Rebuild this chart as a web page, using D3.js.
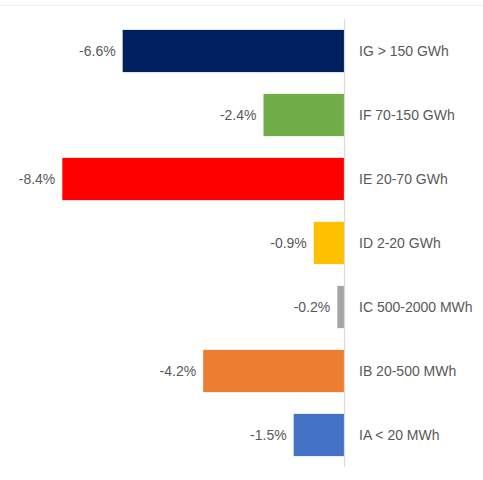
<!DOCTYPE html>
<html>
<head>
<meta charset="utf-8">
<script src="https://cdn.jsdelivr.net/npm/d3@7"></script>
<style>
  body { margin: 0; background: #fff; }
  text { font-family: "Liberation Sans", Arial, sans-serif; font-size: 14px; fill: #595959; }
</style>
</head>
<body>
<svg id="chart"></svg>
<script>
var width = 483, height = 480;

// data, top to bottom
var categories = ["IG > 150 GWh", "IF 70-150 GWh", "IE 20-70 GWh", "ID 2-20 GWh", "IC 500-2000 MWh", "IB 20-500 MWh", "IA < 20 MWh"];
var values = [-6.6, -2.4, -8.4, -0.9, -0.2, -4.2, -1.5];
var colors = ["#002060", "#70AD47", "#FF0000", "#FFC000", "#A5A5A5", "#ED7D31", "#4472C4"];

var svg = d3.select("#chart")
  .attr("width", width)
  .attr("height", height);

// faint chart border at top
svg.append("line")
  .attr("x1", 0).attr("x2", width)
  .attr("y1", 5.5).attr("y2", 5.5)
  .attr("stroke", "#eeeeee")
  .attr("stroke-width", 1);

var x = d3.scaleLinear()
  .domain([-8.4, 0])
  .range([62.3, 344]);

var y = d3.scaleBand()
  .domain(categories)
  .range([19, 467])
  .paddingInner(0.34)
  .paddingOuter(0.17);

var rows = categories.map(function (c, i) {
  return { cat: c, val: values[i], color: colors[i] };
});

svg.selectAll("rect.bar")
  .data(rows)
  .enter().append("rect")
  .attr("class", "bar")
  .attr("x", function (d) { return x(d.val); })
  .attr("y", function (d) { return y(d.cat); })
  .attr("width", function (d) { return x(0) - x(d.val); })
  .attr("height", y.bandwidth())
  .attr("fill", function (d) { return d.color; });

// vertical zero axis
svg.append("line")
  .attr("x1", x(0) + 0.5).attr("x2", x(0) + 0.5)
  .attr("y1", 19).attr("y2", 467)
  .attr("stroke", "#d9d9d9")
  .attr("stroke-width", 1.2);

// value labels
svg.selectAll("text.val")
  .data(rows)
  .enter().append("text")
  .attr("class", "val")
  .attr("x", function (d) { return x(d.val) - 7; })
  .attr("y", function (d) { return y(d.cat) + y.bandwidth() / 2; })
  .attr("dy", "0.35em")
  .attr("text-anchor", "end")
  .text(function (d) { return d.val.toFixed(1) + "%"; });

// category labels
svg.selectAll("text.cat")
  .data(rows)
  .enter().append("text")
  .attr("class", "cat")
  .attr("x", x(0) + 15)
  .attr("y", function (d) { return y(d.cat) + y.bandwidth() / 2; })
  .attr("dy", "0.35em")
  .text(function (d) { return d.cat; });
</script>
</body>
</html>
